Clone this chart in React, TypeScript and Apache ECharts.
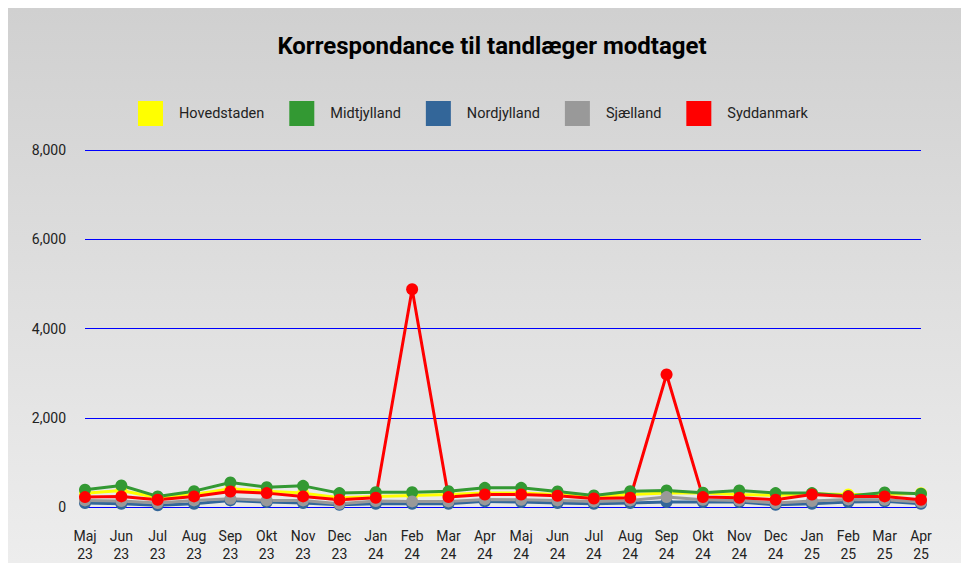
import React, { useEffect, useRef } from "react";
import * as echarts from "echarts";

const months = [
  "Maj\n23", "Jun\n23", "Jul\n23", "Aug\n23", "Sep\n23", "Okt\n23", "Nov\n23", "Dec\n23",
  "Jan\n24", "Feb\n24", "Mar\n24", "Apr\n24", "Maj\n24", "Jun\n24", "Jul\n24", "Aug\n24",
  "Sep\n24", "Okt\n24", "Nov\n24", "Dec\n24", "Jan\n25", "Feb\n25", "Mar\n25", "Apr\n25",
];

const hovedstaden = [310, 370, 207, 281, 407, 355, 311, 207, 237, 259, 281, 311, 311, 281, 222, 281, 311, 311, 281, 259, 296, 281, 281, 310];
const midtjylland = [385, 481, 237, 355, 548, 444, 474, 311, 333, 333, 355, 429, 429, 348, 259, 355, 370, 318, 370, 311, 311, 244, 326, 296];
const nordjylland = [89, 74, 37, 74, 148, 111, 89, 52, 74, 74, 74, 126, 111, 89, 74, 89, 111, 111, 111, 52, 74, 111, 126, 74];
const sjaelland = [148, 133, 89, 148, 185, 148, 148, 74, 133, 126, 126, 170, 163, 148, 126, 148, 222, 163, 148, 89, 133, 170, 163, 111];
const syddanmark = [222, 237, 163, 237, 348, 311, 237, 163, 207, 4880, 222, 281, 281, 252, 192, 207, 2970, 222, 207, 163, 281, 237, 237, 163];

const seriesNames = ["Hovedstaden", "Midtjylland", "Nordjylland", "Sjælland", "Syddanmark"];
const seriesColors = ["#ffff00", "#339933", "#336699", "#999999", "#ff0000"];
const seriesData = [hovedstaden, midtjylland, nordjylland, sjaelland, syddanmark];

export default function App() {
  const ref = useRef<HTMLDivElement>(null);
  useEffect(() => {
    const chart = echarts.init(ref.current!, null, { renderer: "svg" });
    chart.setOption({
      animation: false,
      backgroundColor: new echarts.graphic.LinearGradient(0, 0, 0, 1, [
        { offset: 0, color: "#d0d0d0" },
        { offset: 1, color: "#ededed" },
      ]),
      title: {
        text: "Korrespondance til tandlæger modtaget",
        left: 487 - 8,
        textAlign: "center",
        top: 21,
        textStyle: { fontFamily: "Roboto", fontWeight: "bold", fontSize: 24, color: "#000" },
      },
      legend: {
        top: 88,
        left: 125,
        itemWidth: 25,
        itemHeight: 25,
        itemGap: 25,
        icon: "rect",
        data: seriesNames,
        textStyle: { fontFamily: "Roboto", fontSize: 14.5, color: "#222", padding: [0, 0, 0, 11] },
      },
      grid: { left: 77, right: 40, top: 142, bottom: 53 },
      xAxis: {
        type: "category",
        data: months,
        boundaryGap: false,
        axisLine: { show: false },
        axisTick: { show: false },
        axisLabel: { fontFamily: "Roboto", fontSize: 14, color: "#222", margin: 20, lineHeight: 18, interval: 0 },
      },
      yAxis: {
        type: "value",
        min: 0,
        max: 8000,
        interval: 2000,
        axisLine: { show: false },
        axisTick: { show: false },
        splitLine: { lineStyle: { color: "#0000ff", width: 1 } },
        axisLabel: {
          fontFamily: "Roboto",
          fontSize: 14,
          color: "#222",
          margin: 19,
          formatter: (v: number) => v.toLocaleString("en-US"),
        },
      },
      series: seriesNames.map((name, i) => ({
        name,
        type: "line",
        data: seriesData[i],
        color: seriesColors[i],
        symbol: "circle",
        symbolSize: 12,
        showSymbol: true,
        lineStyle: { width: 3 },
      })),
    });
    return () => chart.dispose();
  }, []);
  return <div ref={ref} style={{ position: "fixed", left: 8, top: 8, width: 953, height: 555 }} />;
}
